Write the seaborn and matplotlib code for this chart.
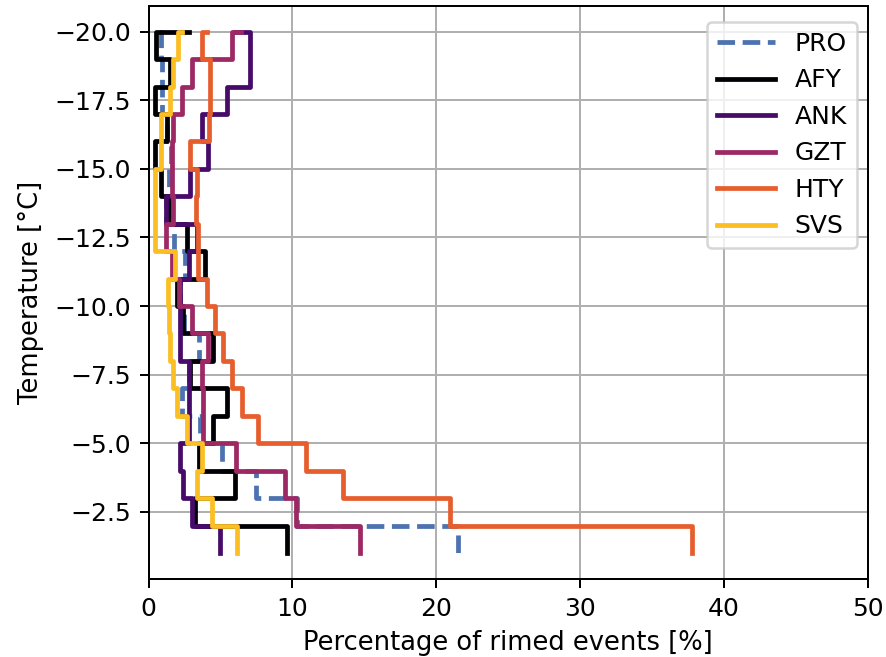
import matplotlib
matplotlib.use("Agg")
import matplotlib.pyplot as plt
import seaborn as sns
import pandas as pd

# Temperature bins (°C) and rimed-event percentages per station
temps = [-20, -19, -18, -17, -16, -15, -14, -13, -12, -11,
         -10, -9, -8, -7, -6, -5, -4, -3, -2, -1]

pro = [1.0, 0.9, 0.95, 0.95, 1.3, 1.55, 1.4, 1.2, 1.8, 2.55,
       2.2, 2.5, 3.5, 2.8, 2.35, 3.6, 5.1, 7.5, 10.3, 21.5]
afy = [2.85, 0.5, 1.5, 0.45, 1.3, 0.45, 0.85, 1.45, 2.65, 3.9,
       2.0, 2.4, 4.5, 2.9, 5.45, 4.5, 3.5, 6.0, 3.2, 9.65]
ank = [6.0, 7.05, 7.05, 5.45, 3.7, 4.15, 2.9, 1.2, 3.4, 2.85,
       2.2, 2.2, 2.2, 2.8, 2.8, 2.8, 2.2, 2.4, 3.0, 5.0]
gzt = [6.4, 5.8, 3.05, 2.3, 1.7, 1.65, 1.65, 1.7, 1.25, 1.65,
       2.1, 3.0, 4.15, 3.75, 3.8, 3.8, 6.1, 9.5, 10.25, 14.7]
hty = [4.1, 3.7, 4.3, 4.3, 4.2, 2.9, 3.35, 3.3, 3.45, 3.45,
       4.05, 4.6, 5.2, 5.8, 6.5, 7.6, 10.95, 13.55, 21.0, 37.8]
svs = [2.35, 2.05, 1.7, 1.5, 0.9, 0.9, 0.45, 0.45, 0.45, 1.85,
       1.35, 1.45, 1.5, 1.7, 1.95, 2.65, 3.7, 3.35, 4.4, 6.13]

stations = ["PRO", "AFY", "ANK", "GZT", "HTY", "SVS"]
series = [pro, afy, ank, gzt, hty, svs]

# Profiler in blue, stations sampled along the inferno map
inferno = plt.get_cmap("inferno")
colors = {"PRO": "#4c72b0"}
for name, pos in zip(stations[1:], [0.0, 0.2125, 0.425, 0.6375, 0.85]):
    colors[name] = inferno(pos)
linestyles = {"PRO": "--"}

fig, ax = plt.subplots(figsize=(886 / 180, 657 / 180), dpi=180)
fig.subplots_adjust(left=148.5 / 886, right=867.5 / 886,
                    bottom=1 - 579 / 657, top=1 - 5.7 / 657)

for name, values in zip(stations, series):
    df = pd.DataFrame({"pct": values, "temp": temps})
    sns.lineplot(data=df, x="pct", y="temp", sort=False, estimator=None,
                 drawstyle="steps-post", color=colors[name],
                 linestyle=linestyles.get(name, "-"), linewidth=1.9,
                 label=name, ax=ax)

ax.set_xlim(0, 50)
ax.invert_yaxis()
ax.grid(True)
ax.set_xlabel("Percentage of rimed events [%]", fontsize=10.3)
ax.set_ylabel("Temperature [°C]", fontsize=10.3)
ax.tick_params(labelsize=10)
ax.legend(loc="upper right", bbox_to_anchor=(0.9854, 0.9716),
          borderaxespad=0, fontsize=10, handlelength=2.3)

fig.savefig("out.png", dpi=180)
